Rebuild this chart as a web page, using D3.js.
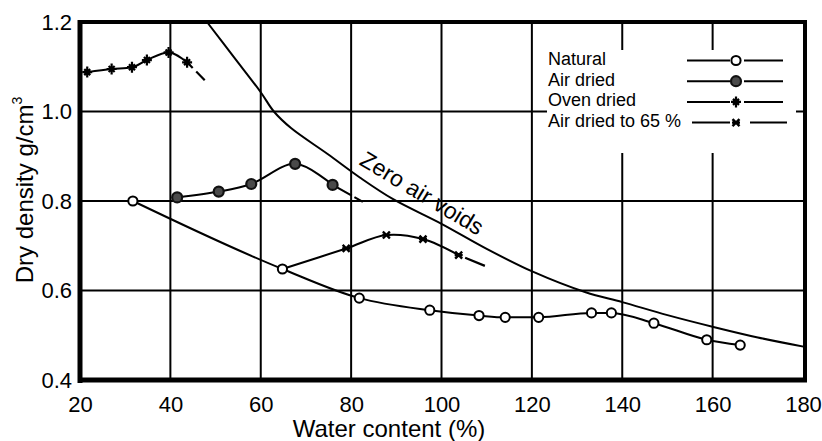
<!DOCTYPE html>
<html>
<head>
<meta charset="utf-8">
<script src="https://cdn.jsdelivr.net/npm/d3@7/dist/d3.min.js"></script>
<style>
  html, body { margin: 0; padding: 0; background: #fff; }
  svg { display: block; }
  text { font-family: "Liberation Sans", Arial, Helvetica, sans-serif; fill: #000; }
</style>
</head>
<body>
<svg id="chart" width="822" height="441"></svg>
<script>
// Compaction test results: dry density vs water content
const xTicks = [20, 40, 60, 80, 100, 120, 140, 160, 180];
const yTicks = [0.4, 0.6, 0.8, 1.0, 1.2];

const naturalW = [31.7, 64.8, 81.8, 97.4, 108.3, 114.1, 121.5, 133.2, 137.6, 147.0, 158.7, 166.1];
const naturalD = [0.800, 0.648, 0.583, 0.556, 0.544, 0.540, 0.540, 0.550, 0.550, 0.527, 0.490, 0.478];

const airDriedW = [41.5, 50.7, 57.9, 67.6, 75.9];
const airDriedD = [0.808, 0.821, 0.838, 0.883, 0.836];
const airDriedTail = [[75.9, 0.836], [82.6, 0.798]];

const ovenDriedW = [21.6, 27.0, 31.5, 34.8, 39.6, 43.7];
const ovenDriedD = [1.088, 1.095, 1.099, 1.115, 1.132, 1.110];
const ovenDriedTail = [[43.7, 1.110], [47.6, 1.070]];

// first point is the natural sample the re-wetted series starts from
const air65W = [64.8, 78.9, 87.8, 95.9, 103.8];
const air65D = [0.648, 0.694, 0.724, 0.715, 0.679];
const air65Tail = [[103.8, 0.679], [109.6, 0.655]];

const zavW = [48.1, 54.1, 60, 62.9, 66.7, 74.8, 82, 89.3, 100, 110, 120.2, 131.9, 140, 150, 160.4, 170, 180.4];
const zavD = [1.2, 1.121, 1.043, 1.0, 0.963, 0.905, 0.852, 0.804, 0.749, 0.693, 0.642, 0.596, 0.574, 0.545, 0.518, 0.495, 0.474];

const legendLabels = ["Natural", "Air dried", "Oven dried", "Air dried to 65 %"];

const svg = d3.select("#chart");
const pL = 80, pR = 803, pT = 22, pB = 380;

const x = d3.scaleLinear().domain([20, 180]).range([pL, pR]);
const y = d3.scaleLinear().domain([0.4, 1.2]).range([pB, pT]);

svg.append("rect").attr("width", 822).attr("height", 441).attr("fill", "#fff");

// grid
const grid = svg.append("g").attr("stroke", "#000").attr("stroke-width", 2);
grid.selectAll("line.vx").data(xTicks.slice(1, -1)).join("line")
  .attr("x1", d => x(d)).attr("x2", d => x(d))
  .attr("y1", pT).attr("y2", pB);
grid.selectAll("line.hy").data(yTicks.slice(1, -1)).join("line")
  .attr("x1", pL).attr("x2", pR)
  .attr("y1", d => y(d)).attr("y2", d => y(d));

// legend background hides the grid behind it
svg.append("rect").attr("x", 547).attr("y", 50).attr("width", 249).attr("height", 103).attr("fill", "#fff");

// frame
const frame = svg.append("g").attr("stroke", "#000").attr("fill", "none");
frame.append("line").attr("x1", pL).attr("x2", pL).attr("y1", pT - 2).attr("y2", pB + 3).attr("stroke-width", 5);
frame.append("line").attr("x1", pL - 2).attr("x2", pR + 4).attr("y1", pB).attr("y2", pB).attr("stroke-width", 5);
frame.append("line").attr("x1", pL - 2).attr("x2", pR + 4).attr("y1", pT).attr("y2", pT).attr("stroke-width", 4);
frame.append("line").attr("x1", pR + 2).attr("x2", pR + 2).attr("y1", pT - 2).attr("y2", pB + 2).attr("stroke-width", 4);

// axes (labels only)
const xAxis = svg.append("g").attr("transform", `translate(0,${pB})`)
  .call(d3.axisBottom(x).tickValues(xTicks).tickSize(0).tickPadding(16).tickFormat(d3.format("d")));
xAxis.select(".domain").remove();
xAxis.selectAll("text").attr("font-size", 22).attr("font-family", "Liberation Sans, Arial, sans-serif");

const yAxis = svg.append("g").attr("transform", `translate(${pL},0)`)
  .call(d3.axisLeft(y).tickValues(yTicks).tickSize(0).tickPadding(8).tickFormat(d3.format(".1f")));
yAxis.select(".domain").remove();
yAxis.selectAll("text").attr("font-size", 22).attr("font-family", "Liberation Sans, Arial, sans-serif");

// axis titles
svg.append("text").attr("x", 389).attr("y", 437).attr("text-anchor", "middle")
  .attr("font-size", 24).text("Water content (%)");
const yt = svg.append("text").attr("transform", "translate(33,190) rotate(-90)")
  .attr("text-anchor", "middle").attr("font-size", 24);
yt.append("tspan").text("Dry density g/cm");
yt.append("tspan").attr("font-size", 14).attr("dy", -11).text("3");

const plot = svg.append("g");
const zip = (a, b) => a.map((v, i) => [v, b[i]]);
const lineGen = curve => d3.line().x(d => x(d[0])).y(d => y(d[1])).curve(curve);

// zero air voids curve
plot.append("path").datum(zip(zavW, zavD))
  .attr("d", lineGen(d3.curveCatmullRom.alpha(0.5)))
  .attr("fill", "none").attr("stroke", "#000").attr("stroke-width", 2);
plot.append("text").attr("transform", "translate(418,200) rotate(31)")
  .attr("text-anchor", "middle").attr("font-size", 23).text("Zero air voids");

// series lines
const lines = [
  { data: zip(naturalW, naturalD), curve: d3.curveMonotoneX },
  { data: zip(airDriedW, airDriedD), curve: d3.curveCatmullRom },
  { data: zip(ovenDriedW, ovenDriedD), curve: d3.curveMonotoneX },
  { data: zip(air65W, air65D), curve: d3.curveCatmullRom }
];
lines.forEach(s => {
  plot.append("path").datum(s.data).attr("d", lineGen(s.curve))
    .attr("fill", "none").attr("stroke", "#000").attr("stroke-width", 2);
});
// extrapolated tails
[[airDriedTail, "22,3,40"], [ovenDriedTail, "8,5,40"], [air65Tail, "0,7,40"]].forEach(([t, dash]) => {
  plot.append("path").datum(t).attr("d", lineGen(d3.curveLinear))
    .attr("fill", "none").attr("stroke", "#000").attr("stroke-width", 2.2)
    .attr("stroke-dasharray", dash);
});

// marker drawers
const markers = {
  natural: g => g.append("circle").attr("r", 4.6).attr("fill", "#fff").attr("stroke", "#000").attr("stroke-width", 2),
  air: g => g.append("circle").attr("r", 5).attr("fill", "#4a4a4a").attr("stroke", "#111").attr("stroke-width", 2.2),
  oven: g => g.append("path").attr("d", "M-5,0H5M0,-5.5V5.5M-3,-3L3,3M-3,3L3,-3").attr("stroke", "#000").attr("stroke-width", 2.2).attr("fill", "none"),
  air65: g => g.append("path").attr("d", "M-3.5,-3.5L3.5,3.5M-3.5,3.5L3.5,-3.5M-4,0H4").attr("stroke", "#000").attr("stroke-width", 2.4).attr("fill", "none")
};
const drawMarkers = (pts, kind) => {
  plot.append("g").selectAll("g").data(pts).join("g")
    .attr("transform", d => `translate(${x(d[0])},${y(d[1])})`)
    .each(function () { markers[kind](d3.select(this)); });
};
drawMarkers(zip(naturalW, naturalD), "natural");
drawMarkers(zip(airDriedW, airDriedD), "air");
drawMarkers(zip(ovenDriedW, ovenDriedD), "oven");
drawMarkers(zip(air65W, air65D).slice(1), "air65");

// legend
const kinds = ["natural", "air", "oven", "air65"];
const lg = svg.append("g");
legendLabels.forEach((lab, i) => {
  const base = 65 + i * 20.7;
  lg.append("text").attr("x", 548).attr("y", base).attr("font-size", 18).text(lab);
  const ly = base - 4.5;
  const x0 = i === 3 ? 692 : 687;
  lg.append("line").attr("x1", x0).attr("x2", 730).attr("y1", ly).attr("y2", ly).attr("stroke", "#000").attr("stroke-width", 2);
  lg.append("line").attr("x1", i === 3 ? 750 : 744).attr("x2", i === 3 ? 787 : 783).attr("y1", ly).attr("y2", ly).attr("stroke", "#000").attr("stroke-width", 2);
  const mg = lg.append("g").attr("transform", `translate(736,${ly})`);
  markers[kinds[i]](mg);
});
</script>
</body>
</html>
